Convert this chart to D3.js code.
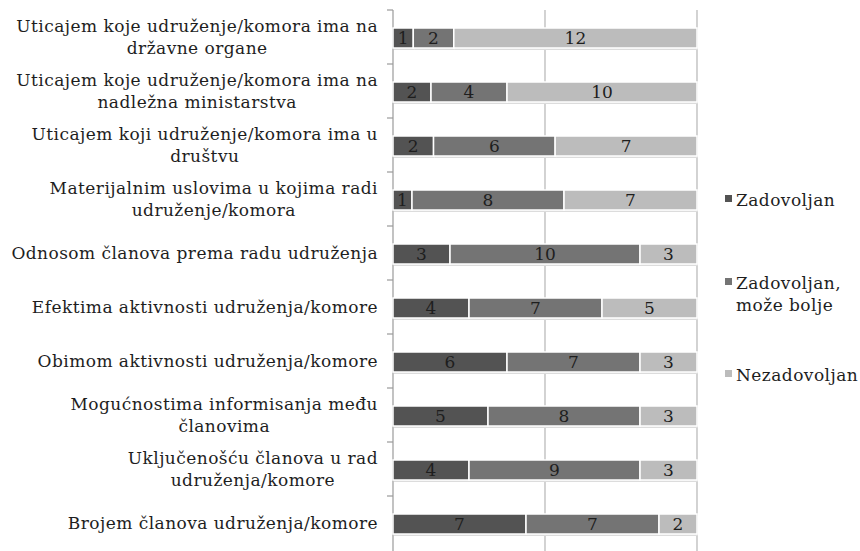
<!DOCTYPE html>
<html>
<head>
<meta charset="utf-8">
<script src="https://cdn.jsdelivr.net/npm/d3@7"></script>
<style>
  body { margin: 0; background: #fff; }
  text { font-family: "DejaVu Serif", serif; fill: #1e1e1e; }
</style>
</head>
<body>
<svg id="chart" width="860" height="551"></svg>
<script>
'use strict';

const categories = [
    ['Uticajem koje udruženje/komora ima na', 'državne organe'],
    ['Uticajem koje udruženje/komora ima na', 'nadležna ministarstva'],
    ['Uticajem koji udruženje/komora ima u', 'društvu'],
    ['Materijalnim uslovima u kojima radi', 'udruženje/komora'],
    ['Odnosom članova prema radu udruženja'],
    ['Efektima aktivnosti udruženja/komore'],
    ['Obimom aktivnosti udruženja/komore'],
    ['Mogućnostima informisanja među', 'članovima'],
    ['Uključenošću članova u rad', 'udruženja/komore'],
    ['Brojem članova udruženja/komore']
];
const zadovoljan = [1, 2, 2, 1, 3, 4, 6, 5, 4, 7];
const mozeBolje  = [2, 4, 6, 8, 10, 7, 7, 8, 9, 7];
const nezadovoljan = [12, 10, 7, 7, 3, 5, 3, 3, 3, 2];
const seriesNames = ['Zadovoljan', ['Zadovoljan,', 'može bolje'], 'Nezadovoljan'];
const seriesColors = ['#535353', '#747474', '#bcbcbc'];
const gridTicks = [0.5, 1];

const svg = d3.select('#chart');
const pLeft = 393, pRight = 697, pTop = 10, pBottom = 550;

// 100% stacked: each row is scaled to its own total
const x = d3.scaleLinear().domain([0, 1]).range([pLeft, pRight]);
const y = d3.scaleBand().domain(d3.range(categories.length)).range([pTop, pBottom]);

// gridlines
svg.append('g').selectAll('line').data(gridTicks).join('line')
    .attr('x1', d => x(d)).attr('x2', d => x(d))
    .attr('y1', pTop).attr('y2', 551)
    .attr('stroke', '#b5b5b5').attr('stroke-width', 1.2);

// left axis with tick marks at band edges
const ax = svg.append('g');
ax.append('line').attr('x1', pLeft).attr('x2', pLeft).attr('y1', pTop).attr('y2', 551)
    .attr('stroke', '#9a9a9a').attr('stroke-width', 1.2);
ax.selectAll('line.tk').data(d3.range(categories.length)).join('line')
    .attr('class', 'tk')
    .attr('x1', pLeft - 6).attr('x2', pLeft)
    .attr('y1', d => y(d)).attr('y2', d => y(d))
    .attr('stroke', '#9a9a9a').attr('stroke-width', 1.2);

// stacked data
const rows = categories.map((c, i) => [zadovoljan[i], mozeBolje[i], nezadovoljan[i]]);
const segs = [];
rows.forEach((r, i) => {
    const tot = d3.sum(r);
    let acc = 0;
    r.forEach((v, s) => {
        segs.push({i: i, s: s, x0: acc / tot, x1: (acc + v) / tot, v: v});
        acc += v;
    });
});

const barH = 20;
const barY = d => y(d.i) + y.bandwidth() / 2 - barH / 2 + 1;

// shadow
svg.append('g').selectAll('rect').data(segs).join('rect')
    .attr('x', d => x(d.x0) + 1).attr('y', d => barY(d) + 2)
    .attr('width', d => x(d.x1) - x(d.x0)).attr('height', barH)
    .attr('fill', '#dcdcdc');

svg.append('g').selectAll('rect').data(segs).join('rect')
    .attr('x', d => x(d.x0)).attr('y', barY)
    .attr('width', d => x(d.x1) - x(d.x0)).attr('height', barH)
    .attr('fill', d => seriesColors[d.s])
    .attr('stroke', '#fff').attr('stroke-width', 1.5);

svg.append('g').selectAll('text').data(segs).join('text')
    .attr('x', d => (x(d.x0) + x(d.x1)) / 2)
    .attr('y', d => barY(d) + barH / 2 + 6)
    .attr('text-anchor', 'middle')
    .style('font-size', '17px')
    .text(d => d.v);

// category labels, lines centred within a right-aligned block
const lab = svg.append('g');
categories.forEach((lines, i) => {
    const cy = y(i) + y.bandwidth() / 2;
    const g = lab.append('g');
    const lh = 22;
    const t = g.selectAll('text').data(lines).join('text')
        .attr('y', (d, k) => cy + 6 + (k - (lines.length - 1) / 2) * lh)
        .attr('text-anchor', 'middle')
        .style('font-size', '17px')
        .style('letter-spacing', '0.45px')
        .text(d => d);
    let w = 0;
    t.each(function() { w = Math.max(w, this.getComputedTextLength()); });
    t.attr('x', 378 - w / 2);
});

// legend
const legY = [206, 289, 381];
const leg = svg.append('g');
seriesNames.forEach((n, s) => {
    const lines = Array.isArray(n) ? n : [n];
    leg.append('rect')
        .attr('x', 725).attr('y', legY[s] - 11).attr('width', 7).attr('height', 7)
        .attr('fill', seriesColors[s]);
    lines.forEach((l, k) => {
        leg.append('text')
            .attr('x', 736).attr('y', legY[s] + k * 22)
            .style('font-size', '17px')
            .style('letter-spacing', '0.45px')
            .text(l);
    });
});
</script>
</body>
</html>
